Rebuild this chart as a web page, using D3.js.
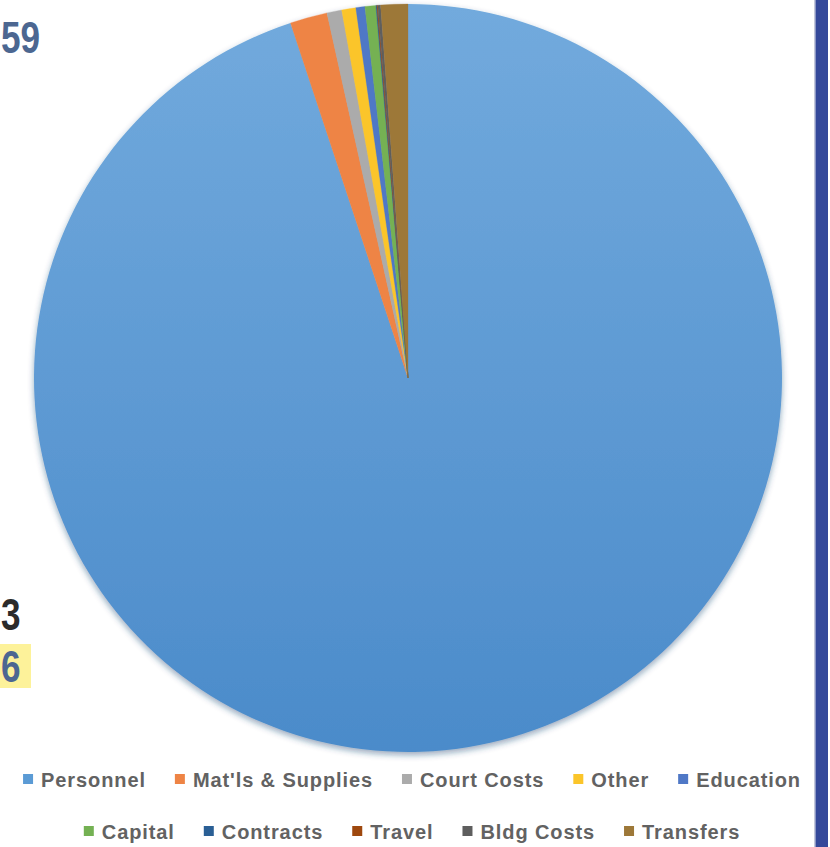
<!DOCTYPE html>
<html>
<head>
<meta charset="utf-8">
<script src="https://cdn.jsdelivr.net/npm/d3@7"></script>
<style>
  html, body { margin: 0; padding: 0; background: #ffffff; }
  svg { display: block; }
</style>
</head>
<body>
<svg id="chart" width="830" height="847"></svg>
<script>
// ---- data ----
const categories = ["Personnel", "Mat'ls & Supplies", "Court Costs", "Other", "Education",
                    "Capital", "Contracts", "Travel", "Bldg Costs", "Transfers"];
const shares = [95.0, 1.61, 0.64, 0.61, 0.39, 0.47, 0.04, 0.04, 0.12, 1.17];
const sliceColors = ["#5B9BD5", "#EE8445", "#ABABAB", "#FBC52A", "#4F78C6",
                     "#74B153", "#2A5F95", "#9E480E", "#5E5E5E", "#9D7838"];
const legendRows = [
  ["Personnel", "Mat'ls & Supplies", "Court Costs", "Other", "Education"],
  ["Capital", "Contracts", "Travel", "Bldg Costs", "Transfers"]
];
const fragments = [
  { text: "59", y: 53, color: "#4c6791" },
  { text: "3",  y: 630, color: "#2b2b2b" },
  { text: "6",  y: 682, color: "#4c6791" }
];

const svg = d3.select("#chart");
const W = 830, H = 847;
const cx = 408, cy = 378, R = 374;

const defs = svg.append("defs");
const grad = defs.append("linearGradient").attr("id", "gPers")
  .attr("x1", 0).attr("y1", 0).attr("x2", 0).attr("y2", 1);
grad.append("stop").attr("offset", "0%").attr("stop-color", "#72aadd");
grad.append("stop").attr("offset", "100%").attr("stop-color", "#4b8bca");

const shadow = defs.append("filter").attr("id", "shadow")
  .attr("x", "-10%").attr("y", "-10%").attr("width", "120%").attr("height", "120%");
shadow.append("feDropShadow").attr("dx", 0).attr("dy", 3).attr("stdDeviation", 3)
  .attr("flood-color", "#1f3f70").attr("flood-opacity", 0.45);

const data = categories.map((c, i) => ({ cat: c, value: shares[i], color: sliceColors[i] }));

const pie = d3.pie().sort(null).value(d => d.value).startAngle(0).endAngle(2 * Math.PI);
const arc = d3.arc().innerRadius(0).outerRadius(R);

const g = svg.append("g").attr("transform", `translate(${cx},${cy})`).attr("filter", "url(#shadow)");
g.selectAll("path").data(pie(data)).join("path")
  .attr("d", arc)
  .attr("fill", (d, i) => i === 0 ? "url(#gPers)" : d.data.color)
  .attr("stroke", (d, i) => i === 0 ? "none" : d.data.color)
  .attr("stroke-width", 0.3);

// ---- legend ----
const color = d3.scaleOrdinal().domain(categories).range(sliceColors);
const legendCenterX = 412;
const rowY = [780, 832];
const sq = 10, sqGap = 8, itemGap = 29;

legendRows.forEach((row, r) => {
  const rg = svg.append("g");
  const items = rg.selectAll("g").data(row).join("g");
  items.append("rect").attr("width", sq).attr("height", sq).attr("y", -sq / 2 - 1)
    .attr("fill", d => color(d));
  items.append("text").attr("x", sq + sqGap).attr("y", 0).attr("dy", "0.36em")
    .attr("font-family", "'Liberation Sans', Arial, sans-serif")
    .attr("font-weight", "bold")
    .attr("font-size", 20).attr("letter-spacing", 0.9)
    .attr("fill", "#626262").text(d => d);
  const widths = [];
  items.each(function () { widths.push(this.getBBox().width); });
  const total = d3.sum(widths) + itemGap * (row.length - 1);
  let x = legendCenterX - total / 2;
  items.attr("transform", (d, i) => {
    const t = `translate(${x},${rowY[r]})`;
    x += widths[i] + itemGap;
    return t;
  });
});

// ---- page fragments (edge of neighbouring page content) ----
svg.append("rect").attr("x", 0).attr("y", 644).attr("width", 31).attr("height", 44).attr("fill", "#fdf29a");
svg.selectAll("text.frag").data(fragments).join("text")
  .attr("class", "frag")
  .attr("transform", d => `translate(1,${d.y}) scale(0.78,1)`)
  .attr("font-family", "'Liberation Sans', sans-serif")
  .attr("font-weight", "bold").attr("font-size", 45)
  .attr("fill", d => d.color).text(d => d.text);

svg.append("rect").attr("x", 814).attr("y", 0).attr("width", 1.5).attr("height", H).attr("fill", "#c3c7da");
svg.append("rect").attr("x", 815.5).attr("y", 0).attr("width", 12.5).attr("height", H).attr("fill", "#34489a");
</script>
</body>
</html>
